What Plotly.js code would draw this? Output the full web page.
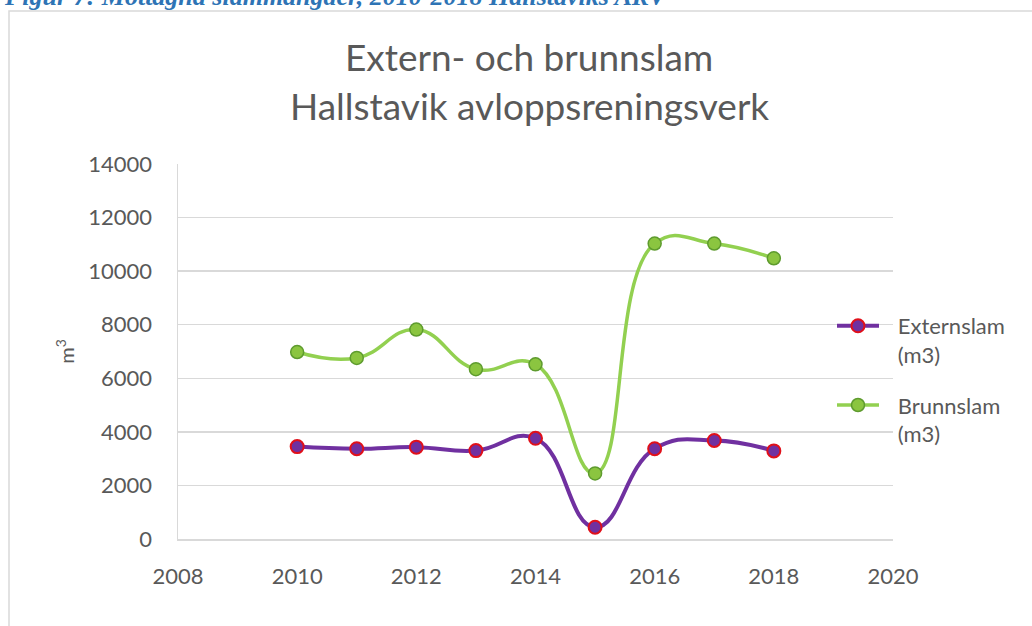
<!DOCTYPE html>
<html><head><meta charset="utf-8">
<script src="https://cdn.plot.ly/plotly-3.0.1.min.js"></script>
<style>html,body{margin:0;padding:0;background:#fff;overflow:hidden}#chart{width:1032px;height:626px}</style>
</head><body><div id="chart"></div>
<script>
const years = [2010, 2011, 2012, 2013, 2014, 2015, 2016, 2017, 2018];
const externslam = [3450, 3370, 3430, 3300, 3760, 440, 3370, 3680, 3290];
const brunnslam = [6980, 6760, 7820, 6340, 6520, 2450, 11030, 11030, 10480];
const seriesNames = ['Externslam<br>(m3)', 'Brunnslam<br>(m3)'];
const titleLines = ['Extern- och brunnslam', 'Hallstavik avloppsreningsverk'];
const caption = 'Figur 7: Mottagna slammängder, 2010-2018 Hallstaviks ARV';
const yAxisTitle = 'm<sup>3</sup>';
const yTicks = [0, 2000, 4000, 6000, 8000, 10000, 12000, 14000];
const xTicks = [2008, 2010, 2012, 2014, 2016, 2018, 2020];

const W = 1032, H = 626;
const L = 178, R = 893, T = 164, B = 539;
const px = x => (x - L) / (R - L);
const py = y => (B - y) / (B - T);
const FONT = 'Lato, "Open Sans", sans-serif';
const GRAY = '#595959';
const pad = s => s.split('<br>').map(t => '\u2002\u2009' + t).join('<br>');

const traces = [
  {
    x: years, y: externslam, name: pad(seriesNames[0]), type: 'scatter', mode: 'lines+markers',
    line: {color: '#7030A0', width: 4, shape: 'spline', smoothing: 1.3},
    marker: {color: '#7030A0', size: 13, line: {color: '#E0101A', width: 2}},
    legendgroup: 'a'
  },
  {
    x: years, y: brunnslam, name: pad(seriesNames[1]), type: 'scatter', mode: 'lines+markers',
    line: {color: '#92D050', width: 3.5, shape: 'spline', smoothing: 1.3},
    marker: {color: '#8BC540', size: 13, line: {color: '#5E9B2E', width: 1.5}},
    legendgroup: 'b'
  }
];

const layout = {
  width: W, height: H,
  margin: {l: L, r: W - R, t: T, b: H - B, pad: 0},
  paper_bgcolor: '#fff', plot_bgcolor: '#fff',
  font: {family: FONT, color: GRAY},
  showlegend: true,
  legend: {
    x: px(832), y: py(305), xanchor: 'left', yanchor: 'top',
    valign: 'top', font: {size: 22, color: GRAY, family: FONT},
    tracegroupgap: 19, itemwidth: 42, bgcolor: 'rgba(0,0,0,0)'
  },
  xaxis: {
    range: [2008, 2020], tickvals: xTicks, ticktext: xTicks.map(String),
    showgrid: false, zeroline: false, showline: true, linecolor: '#d9d9d9', linewidth: 1.5,
    ticks: '', ticklabelstandoff: 17,
    tickfont: {size: 22, color: GRAY, family: FONT}
  },
  yaxis: {
    range: [0, 14000], tickvals: yTicks, ticktext: yTicks.map(String),
    showgrid: true, gridcolor: '#d9d9d9', gridwidth: 1.5,
    zeroline: false, showline: true, linecolor: '#d9d9d9', linewidth: 1.5,
    ticks: '', ticklabelstandoff: 20,
    tickfont: {size: 22, color: GRAY, family: FONT},
    title: {text: yAxisTitle, font: {size: 20, color: GRAY, family: FONT}, standoff: 8}
  },
  shapes: [
    {type: 'rect', xref: 'paper', yref: 'paper', x0: px(9), x1: px(1045), y0: py(645), y1: py(11),
     line: {color: '#d9d9d9', width: 1.5}, fillcolor: 'rgba(0,0,0,0)', layer: 'below'}
  ],
  annotations: [
    {text: titleLines[0], xref: 'paper', yref: 'paper', x: px(529), y: py(57), xanchor: 'center', yanchor: 'middle',
     showarrow: false, font: {size: 37, color: GRAY, family: FONT}},
    {text: titleLines[1], xref: 'paper', yref: 'paper', x: px(529), y: py(106), xanchor: 'center', yanchor: 'middle',
     showarrow: false, font: {size: 37, color: GRAY, family: FONT}},
    {text: '<i><b>' + caption + '</b></i>', xref: 'paper', yref: 'paper', x: px(2), y: py(13), xanchor: 'left', yanchor: 'bottom',
     showarrow: false, font: {size: 26, color: '#2E74B5', family: '"Liberation Serif", serif'}}
  ]
};

Plotly.newPlot('chart', traces, layout, {displayModeBar: false, staticPlot: true});
</script>
</body></html>
